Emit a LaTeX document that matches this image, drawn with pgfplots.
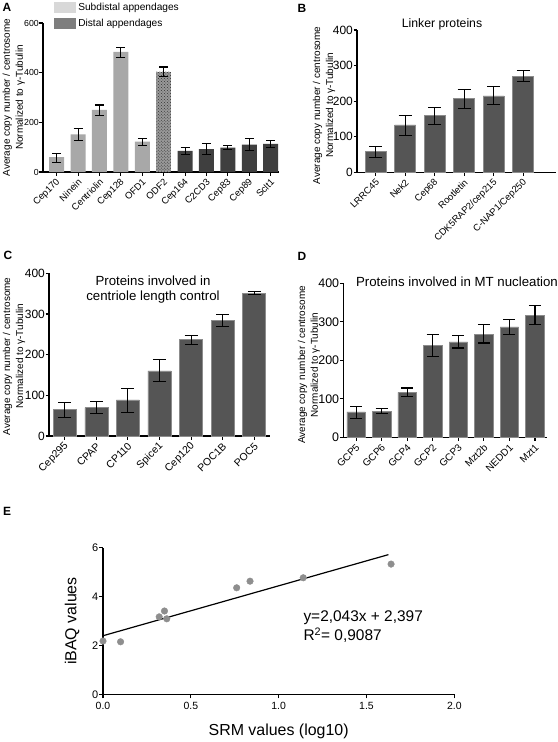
\documentclass[border=0pt]{standalone}
\usepackage{fontspec}
\setmainfont{Liberation Sans}
\usepackage{pgfplots}
\pgfplotsset{compat=1.18}
\usetikzlibrary{patterns}
\definecolor{subd}{HTML}{A8A8A8}
\definecolor{dist}{HTML}{3F3F3F}
\definecolor{bardark}{HTML}{555555}
\definecolor{legl}{HTML}{D8D8D8}
\definecolor{legd}{HTML}{7E7E7E}
\definecolor{ptc}{HTML}{8E8E8E}
\pgfplotsset{
  barbase/.style={
    scale only axis,
    axis lines=left,
    axis line style={-, line width=1.2bp},
    ybar, bar shift=0pt,
    ymin=0,
    tick align=outside,
    major tick length=3.5bp,
    tick style={line width=1.1bp, black},
    ytick pos=left, xtick pos=bottom,
    /pgf/number format/assume math mode=true,
    xticklabel style={xshift=2bp, yshift=-5bp, rotate=45, anchor=east, inner sep=0pt},
    yticklabel style={inner sep=0.5bp},
    ylabel style={align=center, font=\fontsize{10}{13}\selectfont, anchor=center},
    ylabel={Average copy number / centrosome\\Normalized to γ-Tubulin},
    error bars/y dir=both, error bars/y explicit,
    error bars/error bar style={line width=1.1bp, black},
    error bars/error mark options={rotate=90, mark size=4.5bp, line width=1.1bp, black},
  }
}
\begin{document}
\begin{tikzpicture}
\path[use as bounding box] (0,0) rectangle (558bp,-742bp);

% ---------- A ----------
\begin{axis}[barbase,
  at={(43bp,-172bp)}, anchor=south west,
  width=236bp, height=149bp,
  xmin=-0.64, xmax=10.39, ymax=600,
  ytick={0,200,400,600},
  bar width=15bp,
  xtick={0,...,10},
  xticklabels={Cep170,Ninein,Centriolin,Cep128,OFD1,ODF2,Cep164,C2CD3,Cep83,Cep89,Sclt1},
  xticklabel style={font=\fontsize{9.5}{10}\selectfont},
  yticklabel style={font=\fontsize{8.8}{10}\selectfont},
  ylabel style={at={(axis description cs:-0.124,0.5)}},
  legend image code/.code={\fill[#1] (0bp,-5.5bp) rectangle (22bp,5.5bp);},
  legend style={draw=none, fill=none, at={(axis description cs:0.047,1.15)}, anchor=north west,
    font=\fontsize{10.2}{12}\selectfont, row sep=3bp, inner sep=0pt},
  legend cell align=left,
]
\addlegendimage{fill=legl, draw=none}
\addlegendentry{Subdistal appendages}
\addlegendimage{fill=legd, draw=none}
\addlegendentry{Distal appendages}
\addplot[forget plot, fill=subd, draw=none] coordinates {
  (0,60) += (0,15) -= (0,20)
  (1,152) += (0,23) -= (0,24)
  (2,250) += (0,20) -= (0,22)
  (3,484) += (0,19) -= (0,22)
  (4,122) += (0,13) -= (0,14)
};
\addplot[forget plot, fill=black!40, draw=none, postaction={pattern=crosshatch dots, pattern color=black!80}] coordinates {
  (5,403) += (0,20) -= (0,18)
};
\addplot[forget plot, fill=dist, draw=none] coordinates {
  (6,85) += (0,12) -= (0,13)
  (7,92) += (0,21) -= (0,22)
  (8,98) += (0,7) -= (0,8)
  (9,110) += (0,25) -= (0,25)
  (10,113) += (0,14) -= (0,13)
};
\end{axis}

% ---------- B ----------
\begin{axis}[barbase,
  at={(357bp,-172.3bp)}, anchor=south west,
  width=199bp, height=142.3bp,
  xmin=-0.63, xmax=6.11, ymax=400,
  ytick={0,100,200,300,400},
  bar width=21bp,
  xtick={0,...,5},
  xticklabels={LRRC45,Nek2,Cep68,Rootletin,CDK5RAP2/cep215,C-NAP1/Cep250},
  xticklabel style={font=\fontsize{9.5}{10}\selectfont},
  yticklabel style={font=\fontsize{12}{12}\selectfont},
  ylabel style={at={(axis description cs:-0.166,0.47)}},
  error bars/error mark options={rotate=90, mark size=6.5bp, line width=1.1bp, black},
]
\addplot[fill=bardark, draw=black!45, line width=0.5bp] coordinates {
  (0,58) += (0,14) -= (0,16)
  (1,133) += (0,26) -= (0,30)
  (2,159) += (0,23) -= (0,24)
  (3,207) += (0,25) -= (0,27)
  (4,215) += (0,25) -= (0,25)
  (5,270) += (0,17) -= (0,15)
};
\end{axis}

% ---------- C ----------
\begin{axis}[barbase,
  at={(49bp,-436bp)}, anchor=south west,
  width=221bp, height=162.7bp,
  xmin=-0.5, xmax=6.5, ymax=400,
  ytick={0,100,200,300,400},
  bar width=23bp,
  xtick={0,...,6},
  xticklabels={Cep295,CPAP,CP110,Spice1,Cep120,POC1B,POC5},
  xticklabel style={font=\fontsize{10.5}{11}\selectfont},
  yticklabel style={font=\fontsize{12}{12}\selectfont},
  ylabel style={at={(axis description cs:-0.158,0.49)}},
  error bars/error mark options={rotate=90, mark size=6.5bp, line width=1.1bp, black},
]
\addplot[fill=bardark, draw=black!45, line width=0.5bp] coordinates {
  (0,66) += (0,17) -= (0,20)
  (1,70) += (0,15) -= (0,15)
  (2,89) += (0,28) -= (0,31)
  (3,160) += (0,27) -= (0,27)
  (4,237) += (0,10) -= (0,12)
  (5,285) += (0,14) -= (0,15)
  (6,351) += (0,4) -= (0,4)
};
\end{axis}

% ---------- D ----------
\begin{axis}[barbase,
  at={(343.3bp,-437.3bp)}, anchor=south west,
  width=203.4bp, height=154bp,
  xmin=-0.5, xmax=7.46, ymax=400,
  ytick={0,100,200,300,400},
  bar width=18.5bp,
  xtick={0,...,7},
  xticklabels={GCP5,GCP6,GCP4,GCP2,GCP3,Mzt2b,NEDD1,Mzt1},
  xticklabel style={font=\fontsize{10}{11}\selectfont},
  yticklabel style={font=\fontsize{12.5}{12}\selectfont},
  ylabel style={at={(axis description cs:-0.169,0.47)}},
  error bars/error mark options={rotate=90, mark size=6bp, line width=1.1bp, black},
]
\addplot[fill=bardark, draw=black!45, line width=0.5bp] coordinates {
  (0,66) += (0,14) -= (0,16)
  (1,68) += (0,6) -= (0,5)
  (2,117) += (0,11) -= (0,11)
  (3,238) += (0,29) -= (0,28)
  (4,248) += (0,17) -= (0,16)
  (5,268) += (0,25) -= (0,23)
  (6,287) += (0,19) -= (0,19)
  (7,317) += (0,26) -= (0,25)
};
\end{axis}

% ---------- E ----------
\begin{axis}[
  scale only axis,
  at={(103bp,-694.3bp)}, anchor=south west,
  width=351.3bp, height=146.6bp,
  axis lines=left,
  axis line style={-, line width=1.2bp},
  xmin=0, xmax=2, ymin=0, ymax=6,
  xtick={0,0.5,1,1.5,2}, ytick={0,2,4,6},
  tick align=outside, major tick length=4bp,
  tick style={line width=1.1bp, black},
  /pgf/number format/assume math mode=true,
  xticklabel={\pgfmathprintnumber[fixed,fixed zerofill,precision=1]{\tick}},
  xticklabel style={font=\fontsize{10.5}{11}\selectfont},
  yticklabel style={font=\fontsize{11}{11}\selectfont, inner sep=0.5bp},
  xlabel={SRM values (log10)}, ylabel={iBAQ values},
  xlabel style={font=\fontsize{16}{16}\selectfont, at={(axis description cs:0.5,-0.255)}, anchor=center},
  ylabel style={font=\fontsize{16}{16}\selectfont, at={(axis description cs:-0.088,0.5)}, anchor=center},
  clip=false,
]
\addplot[only marks, mark=*, mark size=3.3bp, mark options={fill=ptc, draw=ptc}] coordinates {
  (0.0,2.18) (0.10,2.15) (0.32,3.17) (0.35,3.41) (0.363,3.09)
  (0.761,4.36) (0.837,4.63) (1.14,4.77) (1.64,5.33)
};
\addplot[black, line width=1.2bp] coordinates {(0,2.397) (1.625,5.717)};
\end{axis}

% ---------- texts ----------
\node[font=\bfseries\fontsize{12}{12}\selectfont] at (7bp,-7bp) {A};
\node[font=\bfseries\fontsize{12}{12}\selectfont] at (302bp,-8bp) {B};
\node[font=\bfseries\fontsize{12}{12}\selectfont] at (8bp,-255bp) {C};
\node[font=\bfseries\fontsize{12}{12}\selectfont] at (302bp,-256bp) {D};
\node[font=\bfseries\fontsize{12}{12}\selectfont] at (7bp,-511bp) {E};
\node[font=\fontsize{12.3}{14}\selectfont] at (442bp,-24bp) {Linker proteins};
\node[font=\fontsize{13.3}{15}\selectfont, align=center] at (153bp,-289.5bp) {Proteins involved in\\centriole length control};
\node[font=\fontsize{13.3}{15}\selectfont] at (457bp,-281.7bp) {Proteins involved in MT nucleation};
\node[font=\fontsize{15.5}{19}\selectfont, align=left, anchor=west] at (300bp,-626.5bp) {y=2,043x + 2,397\\R\textsuperscript{2}= 0,9087};
\end{tikzpicture}
\end{document}
